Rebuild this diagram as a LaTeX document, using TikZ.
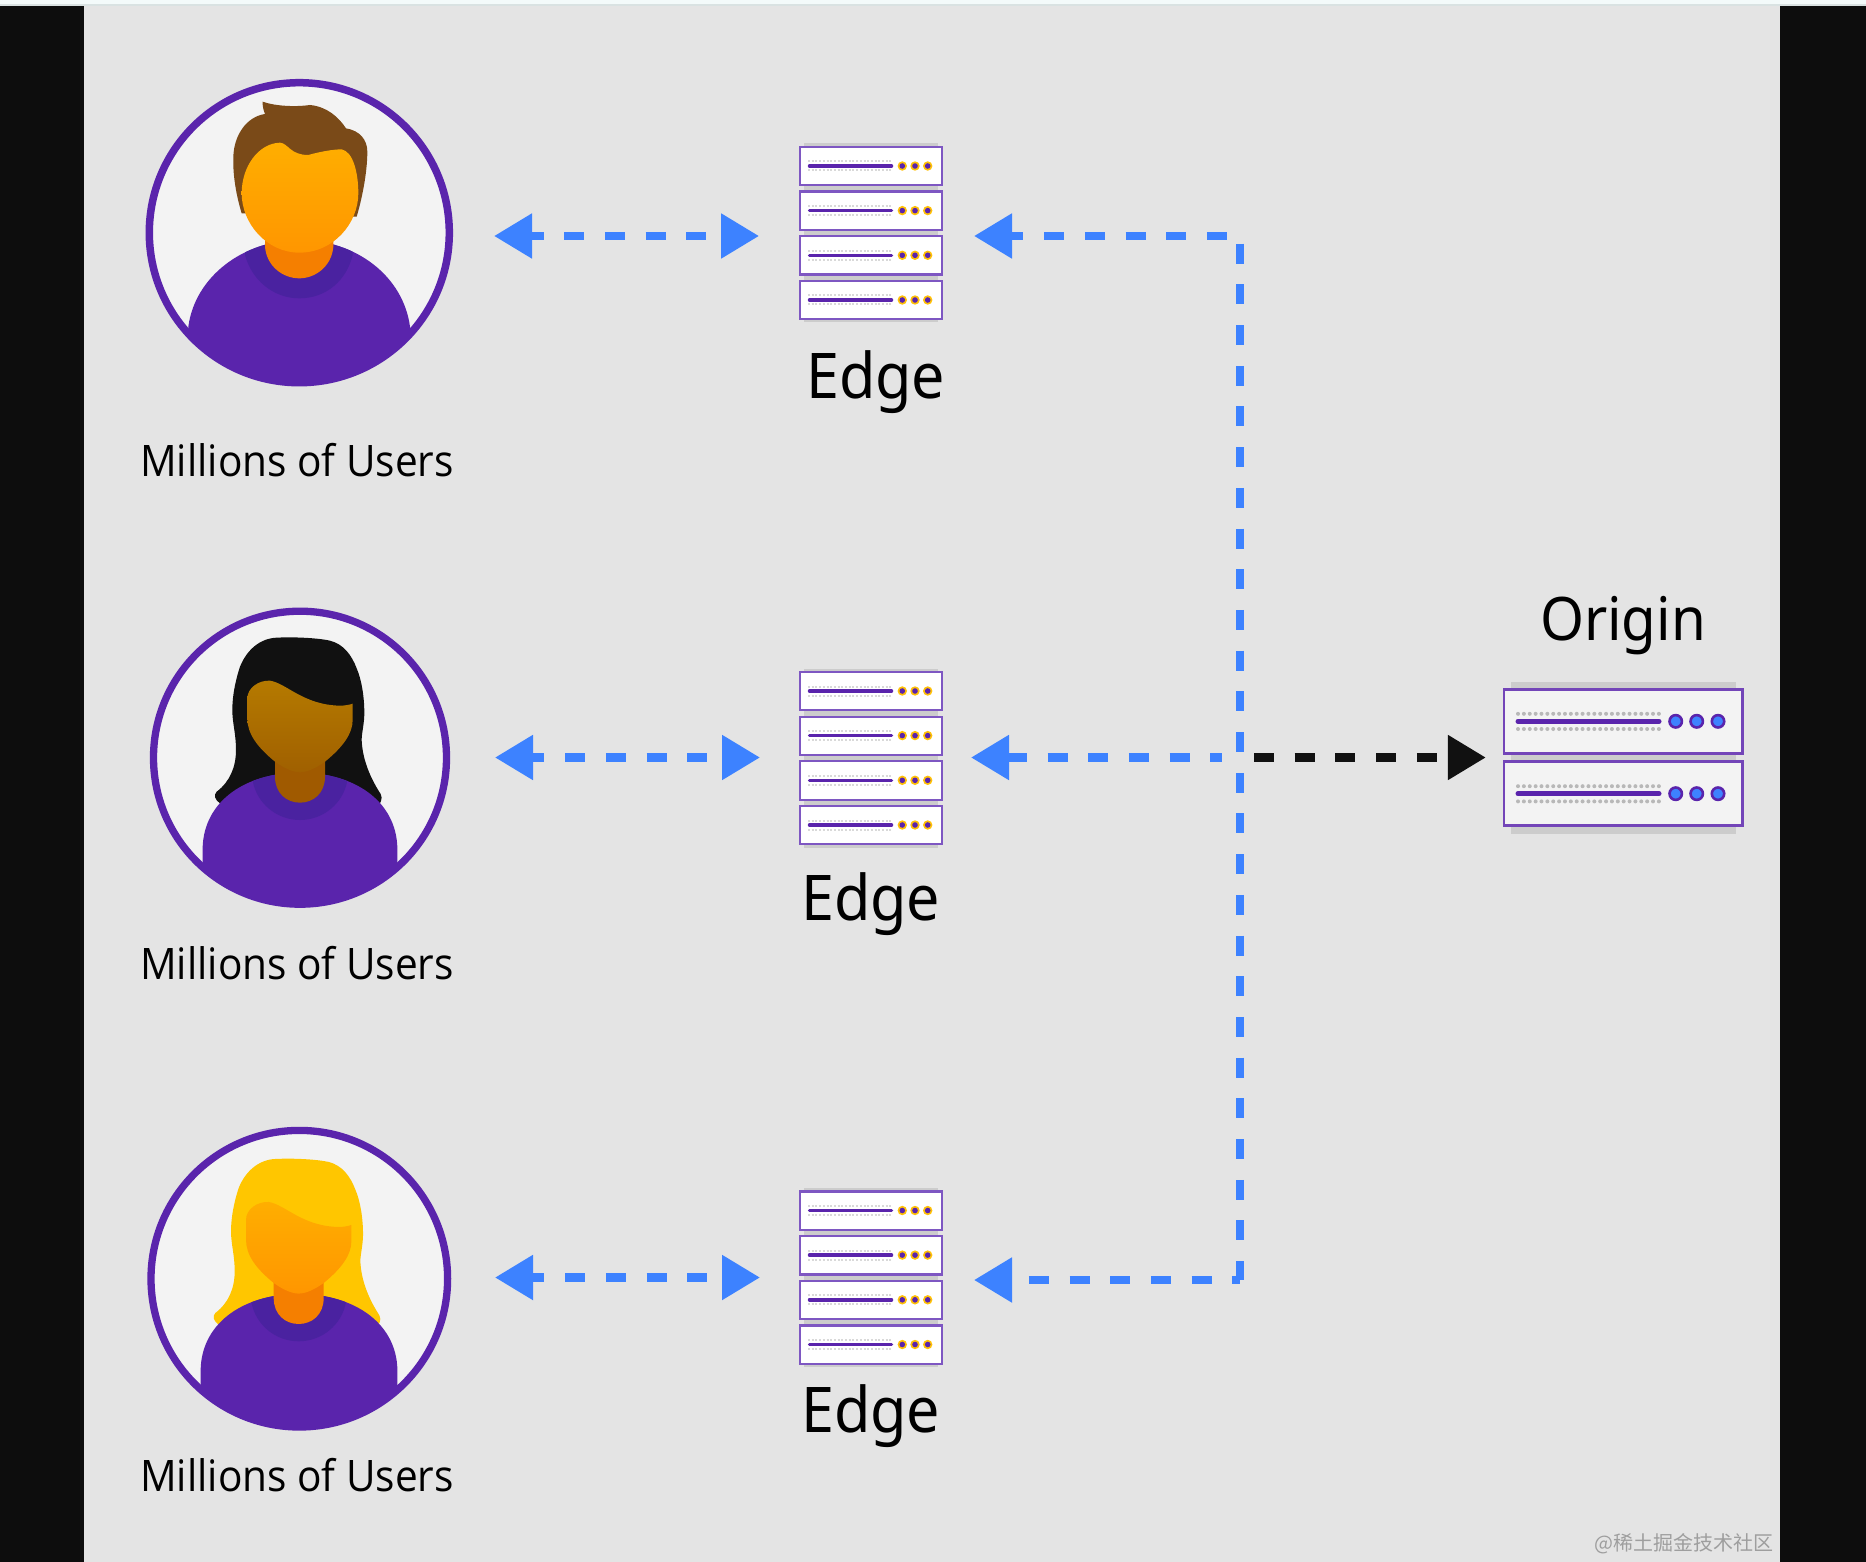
\documentclass[tikz,border=0pt]{standalone}
\usepackage{fontspec}
\setmainfont{Noto Sans}
\newfontfamily\bigfont[FakeStretch=0.94]{Noto Sans}
\newfontfamily\labelfont[FakeStretch=0.935]{Open Sans}
\newfontfamily\cjkfont{Noto Sans CJK SC}
\usetikzlibrary{arrows.meta,calc}
\definecolor{bgblack}{HTML}{0D0D0D}
\definecolor{bggrey}{HTML}{E4E4E4}
\definecolor{topstrip}{HTML}{F3FAFA}
\definecolor{topline}{HTML}{D9E2E2}
\definecolor{discwhite}{HTML}{F3F3F3}
\definecolor{shirt}{HTML}{5A24AC}
\definecolor{collar}{HTML}{4A22A0}
\definecolor{arrowblue}{HTML}{3D82FF}
\definecolor{arrowblack}{HTML}{111111}
\definecolor{rackedge}{HTML}{7E57C2}
\definecolor{rackshadow}{HTML}{CCCCCC}
\definecolor{gold}{HTML}{FFC107}
\definecolor{hairbrown}{HTML}{7A4A18}
\definecolor{hairblond}{HTML}{FFC600}
\definecolor{neckorange}{HTML}{F57F00}
\definecolor{faceorangetop}{HTML}{FFAE00}
\definecolor{faceorangebot}{HTML}{FF9600}
\definecolor{facebrowntop}{HTML}{B57A00}
\definecolor{facebrownbot}{HTML}{A06000}
\definecolor{neckbrown}{HTML}{A05A00}
\tikzset{
  x=1pt,y=-1pt,
  ring/.style={circle,draw=shirt,inner sep=0pt,line width=#1},
  bluelink/.style={draw=arrowblue,line width=8.5pt,dash pattern=on 20pt off 20.7pt,dash phase=6.4pt},
  blacklink/.style={draw=arrowblack,line width=8.5pt,dash pattern=on 20pt off 20.7pt},
  bigtext/.style={font=\bigfont\fontsize{63}{68}\selectfont,text=black,inner sep=0pt,anchor=base},
  origintext/.style={font=\bigfont\fontsize{60}{66}\selectfont,text=black,inner sep=0pt,anchor=base},
  usertext/.style={font=\labelfont\fontsize{43.4}{48}\selectfont,text=black,inner sep=0pt,anchor=base},
  hitbox/.style={inner sep=0pt,draw=none,fill=none},
}
% ---- one small edge server unit, local origin = top-left of rack
\newcommand{\rackunit}[2]{%
  \begin{scope}[shift={(#1,#2)}]
    \draw[draw=rackedge,fill=white,line width=2.2pt] (0,0) rectangle (142,38.3);
    \draw[draw=black!15,line width=2pt,dash pattern=on 2pt off 1.7pt] (8,14.5) -- (93,14.5);
    \draw[draw=black!15,line width=2pt,dash pattern=on 2pt off 1.7pt] (8,23.5) -- (93,23.5);
    \draw[draw=shirt,line width=3.5pt,line cap=round] (9.5,19) -- (91.5,19);
    \foreach \cx in {102.3,115,127.7}{
      \fill[gold] (\cx,19) circle (4.7);
      \fill[shirt] (\cx,19) circle (2.8);
    }
  \end{scope}}
\newcommand{\edgerack}[2]{%
  \fill[rackshadow] (#1+4,#2-3.5) rectangle (#1+138,#2+175.5);
  \rackunit{#1}{#2}
  \rackunit{#1}{#2+44.6}
  \rackunit{#1}{#2+89.3}
  \rackunit{#1}{#2+134}}
% ---- one origin server unit
\newcommand{\originunit}[2]{%
  \begin{scope}[shift={(#1,#2)}]
    \draw[draw=shirt!85!white,fill=discwhite,line width=2.8pt] (0,0) rectangle (238.3,64);
    \draw[draw=black!28,line width=4pt,line cap=round,dash pattern=on 0pt off 5.87pt] (14,24.5) -- (155,24.5);
    \draw[draw=black!28,line width=4pt,line cap=round,dash pattern=on 0pt off 5.87pt] (14,39.7) -- (155,39.7);
    \draw[draw=shirt,line width=5pt,line cap=round] (14,32) -- (155,32);
    \foreach \cx in {171.7,192.7,214}{
      \draw[draw=shirt,fill=arrowblue,line width=2.6pt] (\cx,32) circle (6.2);
    }
  \end{scope}}
% ---- woman figure, in zoom coordinates (3 units = 1px)
\newcommand{\womanfigure}[9]{%
  % #1 hair, #2 face top, #3 face bottom, #4 neck, #5 body left x, #6 body top y, #7 body right x, #8 collar bottom, #9 neck bottom
  \fill[#1] (440,143) .. controls (500,140) and (570,145) .. (600,152)
    .. controls (640,162) and (665,195) .. (680,235)
    .. controls (695,270) and (703,320) .. (703,370)
    .. controls (703,400) and (695,430) .. (695,450)
    .. controls (697,500) and (715,555) .. (752,612)
    .. controls (760,625) and (750,645) .. (740,650)
    -- (270,640) .. controls (255,630) and (250,615) .. (260,605)
    .. controls (300,575) and (318,530) .. (318,480)
    .. controls (318,430) and (307,400) .. (307,360)
    .. controls (307,310) and (320,260) .. (330,230)
    .. controls (350,180) and (390,145) .. (440,143) -- cycle;
  \fill[shirt] (#5,790) .. controls (#5-6,640) and (340,#6) .. (510,#6)
    .. controls (680,#6) and (#7+6,640) .. (#7,790) -- (#7,1000) -- (#5,1000) -- cycle;
  \begin{scope}
    \clip (#5,790) .. controls (#5-6,640) and (340,#6) .. (510,#6)
      .. controls (680,#6) and (#7+6,640) .. (#7,790) -- (#7,1000) -- (#5,1000) -- cycle;
    \fill[collar] (368,540) -- (368,572) .. controls (380,640) and (440,#8) .. (510,#8)
      .. controls (580,#8) and (640,640) .. (652,572) -- (652,540) -- cycle;
  \end{scope}
  \fill[#4] (435,490) -- (585,490) -- (585,560)
    .. controls (585,610) and (550,#9) .. (510,#9)
    .. controls (470,#9) and (435,610) .. (435,560) -- cycle;
  \shade[top color=#2,bottom color=#3] (420,272)
    .. controls (470,280) and (520,345) .. (630,347)
    .. controls (645,347) and (660,344) .. (668,341)
    -- (668,390) .. controls (668,430) and (640,470) .. (585,515)
    .. controls (550,540) and (525,547) .. (510,547)
    .. controls (495,547) and (470,540) .. (435,515)
    .. controls (380,470) and (352,430) .. (352,385)
    -- (352,325) .. controls (352,295) and (385,270) .. (420,272) -- cycle;
}
\begin{document}
\begin{tikzpicture}
\useasboundingbox (0,0) rectangle (1866,1562);
\fill[topstrip] (0,0) rectangle (1866,4.5);
\fill[topline] (0,4.5) rectangle (1866,6);
\fill[bgblack] (0,6) rectangle (1866,1562);
\fill[bggrey] (84,6) rectangle (1780,1562);

% ---- user 1
\fill[discwhite] (299.3,232.7) circle (150);
\begin{scope}
  \clip (299.3,232.7) circle (150);
  \begin{scope}[shift={(130,60)},scale=1/3]
    \fill[hairbrown] (398,125) .. controls (430,137) and (490,142) .. (540,135)
      .. controls (590,140) and (625,170) .. (648,205)
      .. controls (690,212) and (712,240) .. (712,275)
      .. controls (712,340) and (695,420) .. (680,470)
      -- (335,460) .. controls (320,410) and (308,350) .. (310,290)
      .. controls (312,225) and (350,170) .. (405,162)
      .. controls (400,150) and (397,135) .. (398,125) -- cycle;
    \fill[shirt] (175,800) .. controls (195,650) and (340,540) .. (508,540)
      .. controls (680,540) and (820,650) .. (840,800) -- (840,1000) -- (175,1000) -- cycle;
    \begin{scope}
      \clip (175,800) .. controls (195,650) and (340,540) .. (508,540)
        .. controls (680,540) and (820,650) .. (840,800) -- (840,1000) -- (175,1000) -- cycle;
      \fill[collar] (345,530) -- (345,585) .. controls (365,660) and (430,715) .. (508,715)
        .. controls (590,715) and (650,660) .. (668,585) -- (668,530) -- cycle;
    \end{scope}
    \fill[neckorange] (405,490) -- (610,490) -- (610,560)
      .. controls (605,620) and (555,655) .. (508,655)
      .. controls (460,655) and (410,620) .. (405,560) -- cycle;
    \shade[top color=faceorangetop,bottom color=faceorangebot] (450,248)
      .. controls (475,250) and (480,285) .. (535,285)
      .. controls (570,275) and (610,268) .. (635,268)
      .. controls (670,275) and (685,340) .. (685,400)
      .. controls (685,490) and (610,578) .. (508,578)
      .. controls (410,578) and (335,490) .. (335,400)
      .. controls (335,320) and (385,250) .. (450,248) -- cycle;
  \end{scope}
\end{scope}
\node[ring=7.5pt,minimum size=300pt] (u1) at (299.3,232.7) {};

% ---- user 2
\fill[discwhite] (300,757.7) circle (146.5);
\begin{scope}
  \clip (300,757.7) circle (146.5);
  \begin{scope}[shift={(130,590)},scale=1/3]
    \womanfigure{arrowblack}{facebrowntop}{facebrownbot}{neckbrown}{218}{548}{802}{690}{638}
  \end{scope}
\end{scope}
\node[ring=7.3pt,minimum size=293pt] (u2) at (300,757.7) {};

% ---- user 3
\fill[discwhite] (299.3,1278.7) circle (148.3);
\begin{scope}
  \clip (299.3,1278.7) circle (148.3);
  \begin{scope}[shift={(128.7,1111.3)},scale=1/3]
    \womanfigure{hairblond}{faceorangetop}{faceorangebot}{neckorange}{216}{548}{806}{690}{638}
  \end{scope}
\end{scope}
\node[ring=7.3pt,minimum size=296.6pt] (u3) at (299.3,1278.7) {};

% ---- edge racks
\edgerack{800}{147}
\edgerack{800}{672}
\edgerack{800}{1191.5}
\node[hitbox,minimum width=142pt,minimum height=172pt] (e1) at (871,236) {};
\node[hitbox,minimum width=142pt,minimum height=172pt] (e2) at (871,757.5) {};
\node[hitbox,minimum width=142pt,minimum height=172pt] (e3) at (871,1277.5) {};

% ---- origin
\fill[rackshadow] (1510.7,681.7) rectangle (1735.7,834);
\originunit{1504}{689.3}
\originunit{1504}{761.7}
\node[hitbox,minimum width=238pt,minimum height=136pt] (o1) at (1623,757.5) {};

% ---- labels
\node[bigtext] (le1) at (875.7,398.3) {Edge};
\node[bigtext] (le2) at (870.7,920.7) {Edge};
\node[bigtext] (le3) at (870.7,1432.5) {Edge};
\node[origintext] (lo) at (1623,640) {Origin};
\node[usertext] (lu1) at (297,476.2) {Millions of Users};
\node[usertext] (lu2) at (297,979.5) {Millions of Users};
\node[usertext] (lu3) at (297,1491.2) {Millions of Users};
\node[inner sep=0pt,text=black!38,font=\cjkfont\fontsize{20}{22}\selectfont,anchor=east] (wm) at (1774,1544) {@稀土掘金技术社区};

% ---- connectors
\coordinate (j) at (1240,757.5);
\coordinate (c1) at (1240,236);
\coordinate (c3) at (1240,1280);
\draw[bluelink,{Triangle[length=38pt,width=43pt]}-{Triangle[length=38pt,width=43pt]}] (u1.east |- e1.west) ++(41,0) -- ++(265,0);
\draw[bluelink,{Triangle[length=38pt,width=43pt]}-{Triangle[length=38pt,width=43pt]}] (495,757.5 |- e2.west) -- (760,757.5 |- e2.west);
\draw[bluelink,{Triangle[length=38pt,width=43pt]}-{Triangle[length=38pt,width=43pt]}] (495,1277.5 |- e3.west) -- (760,1277.5 |- e3.west);
\draw[bluelink,{Triangle[length=38pt,width=43pt]}-] (974,236) -- (c1) -- (j) -- (c3);
\draw[bluelink,dash phase=21.7pt,{Triangle[length=38pt,width=43pt]}-] (974,1280) -- (c3);
\draw[bluelink,dash phase=0pt,{Triangle[length=38pt,width=43pt]}-] (971,757.5) -- (1222,757.5);
\draw[blacklink,shorten <=14pt,shorten >=18pt,-{Triangle[length=38pt,width=43pt]}] (j) -- (o1.west);
\end{tikzpicture}
\end{document}
